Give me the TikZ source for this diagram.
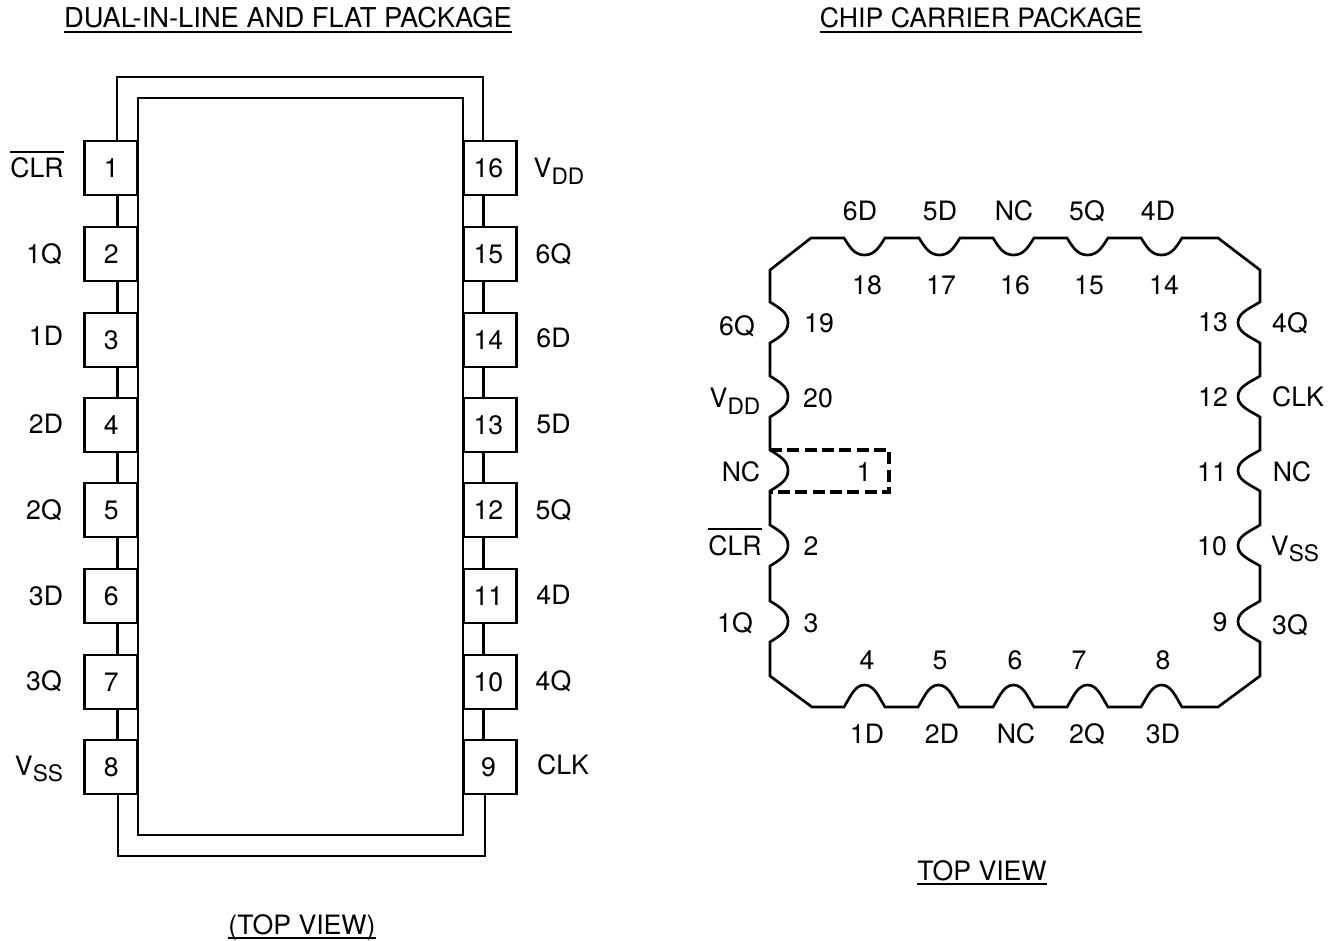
\documentclass[tikz,border=0pt]{standalone}
\usepackage{fontspec}
\setmainfont{TeX Gyre Heros}
\newcommand{\barred}[1]{\leavevmode\vbox{\hrule height 1.4pt\kern 3.6pt\hbox{#1}}}
\newcommand{\subs}[2]{#1\raisebox{-0.26em}{\fontsize{17}{19}\selectfont #2}}
\newcommand{\ul}[1]{\vtop{\hbox{\raisebox{0pt}[\height][0pt]{#1}}\kern 2.4pt\hrule height 1.4pt}}
\tikzset{
  lw/.style={line width=2pt},
  pinbox/.style={draw,lw,fill=white,minimum width=39.8pt,minimum height=40.5pt,inner sep=0pt,font=\fontsize{20}{22}\selectfont},
  lab/.style={inner sep=0pt,anchor=base,yshift=-0.75pt,font=\fontsize{20}{22}\selectfont},
  ttl/.style={inner sep=0pt,anchor=base,yshift=-0.75pt,font=\fontsize{20}{22}\selectfont},
  bodybox/.style={draw,lw,minimum width=243.75pt,minimum height=552.75pt,inner sep=0pt}
}
\begin{document}
\begin{tikzpicture}[x=0.75pt,y=-0.75pt,line join=miter]
\useasboundingbox (0,0) rectangle (1340,941);
% titles
\node[ttl,font=\fontsize{20.5}{22}\selectfont] (t1) at (288,27) {\ul{DUAL-IN-LINE AND FLAT PACKAGE}};
\node[ttl] (t2) at (981,27) {\ul{CHIP CARRIER PACKAGE}};
\node[ttl] (t3) at (982,879) {\ul{TOP VIEW}};
\node[ttl] (t4) at (302,933) {\ul{(TOP VIEW)}};
% DIP body
\node[bodybox] (body) at (300.5,466.5) {};
% DIP outer outline
\draw[lw] (117,141) -- (117,77) -- (483,77) -- (483,141);
\draw[lw] (118,794) -- (118,856) -- (485,856) -- (485,794);
% DIP pins
\foreach \n/\y in {1/168,2/254,3/340,4/425,5/510,6/596,7/682,8/767}{
  \node[pinbox] (L\n) at (111.2,\y) {\n};
}
\foreach \n/\y in {16/168,15/254,14/340,13/425,12/510,11/596,10/682,9/767}{
  \node[pinbox] (R\n) at (489.8,\y) {\n\hspace*{2pt}};
}
% DIP stubs between the pins
\foreach \a/\b in {1/2,2/3,3/4,4/5,5/6,6/7,7/8}{
  \draw[lw] (L\a.south) ++(6,0) coordinate (sa\a) -- (sa\a |- L\b.north);
}
\foreach \a/\b in {16/15,15/14,14/13,13/12,12/11,11/10,10/9}{
  \draw[lw] (R\a.south) ++(-6,0) coordinate (sb\a) -- (sb\a |- R\b.north);
}
% DIP labels
\node[lab] (d1) at (37,177) {\barred{CLR}};
\node[lab] (d2) at (44,263) {1Q};
\node[lab] (d3) at (46,345) {1D};
\node[lab] (d4) at (46,433) {2D};
\node[lab] (d5) at (44,518) {2Q};
\node[lab] (d6) at (46,604) {3D};
\node[lab] (d7) at (44,689) {3Q};
\node[lab] (d8) at (39,774) {\subs{V}{SS}};
\node[lab] (d9) at (559,177) {\subs{V}{DD}};
\node[lab] (d10) at (553.5,263) {6Q};
\node[lab] (d11) at (553.5,347) {6D};
\node[lab] (d12) at (553.5,433) {5D};
\node[lab] (d13) at (553.5,518) {5Q};
\node[lab] (d14) at (553.5,603) {4D};
\node[lab] (d15) at (553.5,689) {4Q};
\node[lab] (d16) at (563,773) {CLK};
% chip carrier outline
\draw[lw] (811,238)
  \foreach \a in {844,919,993,1067,1141}{ -- (\a,238)
    .. controls (\a+6,247.5) and (\a+10.5,255) .. (\a+20.5,255)
    .. controls (\a+30.5,255) and (\a+35,247.5) .. (\a+41,238) }
  -- (1218,238) -- (1260,270)
  \foreach \a in {302,376,450,525,601}{ -- (1260,\a)
    .. controls (1250.5,\a+6) and (1238,\a+10.5) .. (1238,\a+20.5)
    .. controls (1238,\a+30.5) and (1250.5,\a+35) .. (1260,\a+41) }
  -- (1260,676) -- (1218,707)
  \foreach \a in {1141,1067,993,918,844}{ -- (\a+41,707)
    .. controls (\a+35,697.5) and (\a+30.5,685) .. (\a+20.5,685)
    .. controls (\a+10.5,685) and (\a+6,697.5) .. (\a,707) }
  -- (812,707) -- (770,676)
  \foreach \a in {601,525,450,376,302}{ -- (770,\a+41)
    .. controls (779.5,\a+35) and (788,\a+30.5) .. (788,\a+20.5)
    .. controls (788,\a+10.5) and (779.5,\a+6) .. (770,\a) }
  -- (770,270) -- cycle;
\draw[line width=2.3pt,dash pattern=on 9pt off 4pt] (770,450) -- (889,450) -- (889,492) -- (770,492);
% chip labels, top
\node[lab] (c1) at (860,220) {6D};
\node[lab] (c2) at (940,220) {5D};
\node[lab] (c3) at (1014,220) {NC};
\node[lab] (c4) at (1087,220) {5Q};
\node[lab] (c5) at (1158,220) {4D};
\node[lab] (c6) at (867,294) {18};
\node[lab] (c7) at (941,294) {17};
\node[lab] (c8) at (1015,294) {16};
\node[lab] (c9) at (1089,294) {15};
\node[lab] (c10) at (1164,294) {14};
% left
\node[lab] (c11) at (737,335) {6Q};
\node[lab] (c12) at (819,332) {19};
\node[lab] (c13) at (735,407) {\subs{V}{DD}};
\node[lab] (c14) at (818,407) {20};
\node[lab] (c15) at (741,480) {NC};
\node[lab] (c16) at (864,481) {1};
\node[lab] (c17) at (735,554) {\barred{CLR}};
\node[lab] (c18) at (811,555) {2};
\node[lab] (c19) at (735,631) {1Q};
\node[lab] (c20) at (811,631) {3};
% right
\node[lab] (c21) at (1213,331) {13};
\node[lab] (c22) at (1290,332) {4Q};
\node[lab] (c23) at (1213,406) {12};
\node[lab] (c24) at (1298,406) {CLK};
\node[lab] (c25) at (1212,480) {11};
\node[lab] (c26) at (1292,480) {NC};
\node[lab] (c27) at (1212,554) {10};
\node[lab] (c28) at (1295,554) {\subs{V}{SS}};
\node[lab] (c29) at (1220,630) {9};
\node[lab] (c30) at (1290,633) {3Q};
% bottom
\node[lab] (c31) at (867,668) {4};
\node[lab] (c32) at (940,668) {5};
\node[lab] (c33) at (1015,668) {6};
\node[lab] (c34) at (1079,668) {7};
\node[lab] (c35) at (1163,668) {8};
\node[lab] (c36) at (867,742) {1D};
\node[lab] (c37) at (942,742) {2D};
\node[lab] (c38) at (1016,742) {NC};
\node[lab] (c39) at (1087,742) {2Q};
\node[lab] (c40) at (1163,742) {3D};
\end{tikzpicture}
\end{document}
